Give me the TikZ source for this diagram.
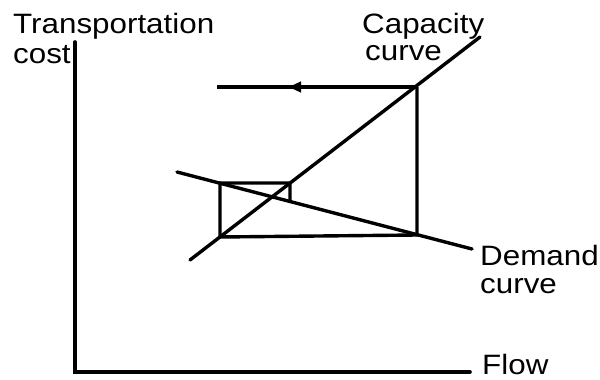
\documentclass[tikz,border=0pt]{standalone}
\usepackage{fontspec}
\setmainfont{Liberation Sans}[FakeStretch=1.12]
\usetikzlibrary{arrows.meta,decorations.markings}

\begin{document}
\begin{tikzpicture}[
        x=1pt, y=-1pt,
        lbl/.style={anchor=base west, inner sep=0pt, font=\fontsize{28}{30}\selectfont},
        axis/.style={line width=3.6pt, line cap=round},
        curveline/.style={line width=3.4pt, line cap=round},
        web/.style={line width=3.4pt, line join=miter},
        midarrow/.style={decoration={markings, mark=at position #1 with {\arrow{Latex[length=15pt,width=12pt]}}}, postaction={decorate}}
    ]
    \useasboundingbox (0,0) rectangle (600,380);
    % axes
    \coordinate (ytop)   at (75,42);
    \coordinate (origin) at (75,372);
    \coordinate (xend)   at (470,372);
    \draw[axis] (ytop) -- (origin) -- (xend);
    % curves
    \coordinate (caplow)  at (190,260);
    \coordinate (caphigh) at (480,37);
    \coordinate (demlow)  at (177,172);
    \coordinate (demhigh) at (472,249);
    \draw[curveline] (caplow) -- (caphigh);
    \draw[curveline] (demlow) -- (demhigh);
    % cobweb
    \coordinate (webstart) at (417,87);
    \coordinate (webleft)  at (217,87);
    \coordinate (weba) at (417,235);
    \coordinate (webb) at (220,237);
    \coordinate (webc) at (220,183);
    \coordinate (webd) at (290,183);
    \coordinate (webe) at (290,201);
    \draw[web, midarrow=0.655] (webstart) -- (webleft);
    \draw[web] (webstart) -- (weba) -- (webb) -- (webc) -- (webd) -- (webe);
    % labels
    \node[lbl] (ylabel)  at (13,33)  {Transportation};
    \node[lbl] (ylabelb) at (13,63)  {cost};
    \node[lbl] (caplbl)  at (362,33) {Capacity};
    \node[lbl] (caplblb) at (365,60) {curve};
    \node[lbl] (demlbl)  at (480,265) {Demand};
    \node[lbl] (demlblb) at (480,293) {curve};
    \node[lbl] (xlabel)  at (482,374) {Flow};
\end{tikzpicture}
\end{document}
